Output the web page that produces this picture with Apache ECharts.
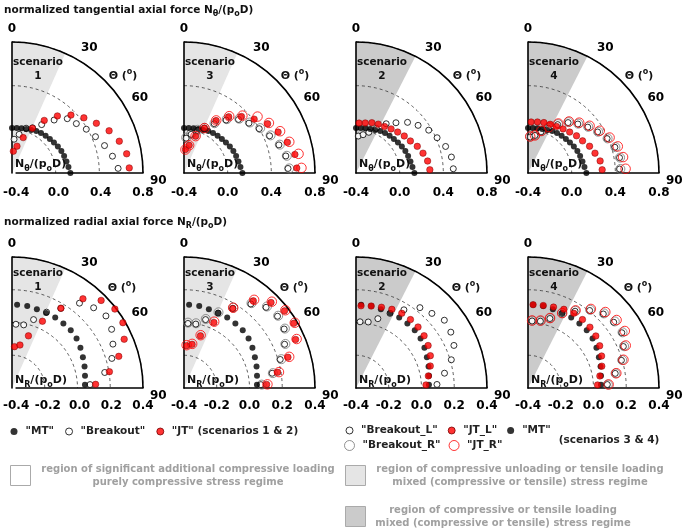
<!DOCTYPE html>
<html><head><meta charset="utf-8">
<script src="https://cdn.jsdelivr.net/npm/echarts@6/dist/echarts.min.js"></script>
<style>html,body{margin:0;padding:0;background:#fff}#c{width:685px;height:530px}</style>
</head><body><div id="c"></div>
<script>
// ================= DATA =================
// angle positions (degrees, 0 = crown/top, 90 = springline/right)
const mtAnglesTan = [0, 6, 12, 18, 24, 30, 36, 42, 48, 54, 60, 66, 72, 78, 84, 90];
const jointAngles = [3.5, 10.5, 17.5, 24.5, 31.5, 38.5, 45.5, 52.5, 59.5, 66.5, 73.5, 80.5, 87.5];

// radial axis tick settings per row (tick labels)
const tanAxisTicks = [-0.4, 0.0, 0.4, 0.8];
const radAxisTicks = [-0.4, -0.2, 0.0, 0.2, 0.4];
const angleTicks = [0, 30, 60, 90];

// ---- normalized tangential axial force N_theta/(p_o D) ----
const tanMT       = [0.012, 0.014, 0.018, 0.024, 0.032, 0.045, 0.052, 0.06, 0.067, 0.075, 0.085, 0.095, 0.102, 0.11, 0.12, 0.135];
const tanBO_s1    = [-0.09, -0.04, 0.03, 0.055, 0.12, 0.22, 0.31, 0.343, 0.39, 0.434, 0.484, 0.533, 0.573];
const tanJT_s1    = [-0.2, -0.15, -0.06, 0.05, 0.165, 0.268, 0.357, 0.43, 0.497, 0.57, 0.625, 0.665, 0.675];
const tanBOL_s3   = [-0.08, -0.04, 0.01, 0.05, 0.13, 0.22, 0.3, 0.35, 0.4, 0.455, 0.507, 0.546, 0.554];
const tanBOR_s3   = [-0.075, -0.035, 0.015, 0.055, 0.135, 0.23, 0.31, 0.36, 0.41, 0.465, 0.515, 0.555, 0.565];
const tanJTL_s3   = [-0.185, -0.142, -0.046, 0.052, 0.163, 0.258, 0.338, 0.41, 0.489, 0.54, 0.588, 0.63, 0.634];
const tanJTR_s3   = [-0.185, -0.142, -0.046, 0.052, 0.165, 0.265, 0.35, 0.449, 0.503, 0.56, 0.606, 0.664, 0.677];
const tanBO_s2    = [-0.061, -0.043, -0.009, 0.049, 0.129, 0.188, 0.262, 0.317, 0.373, 0.41, 0.456, 0.486, 0.492];
const tanJT_s2    = [0.058, 0.066, 0.083, 0.092, 0.1, 0.116, 0.135, 0.157, 0.178, 0.212, 0.24, 0.265, 0.277];
const tanBOL_s4   = [-0.07, -0.05, -0.005, 0.05, 0.12, 0.19, 0.24, 0.29, 0.34, 0.39, 0.43, 0.45, 0.44];
const tanBOR_s4   = [-0.066, -0.046, 0.0, 0.055, 0.125, 0.195, 0.245, 0.295, 0.345, 0.395, 0.435, 0.455, 0.447];
const tanJTL_s4   = [0.068, 0.075, 0.084, 0.09, 0.1, 0.116, 0.135, 0.16, 0.18, 0.215, 0.24, 0.27, 0.28];
const tanJTR_s4   = [-0.065, -0.05, 0.005, 0.062, 0.132, 0.203, 0.258, 0.311, 0.363, 0.415, 0.458, 0.483, 0.495];

// ---- normalized radial axial force N_R/(p_o D) ----
const radMT       = [0.11, 0.11, 0.105, 0.103, 0.105, 0.104, 0.103, 0.097, 0.085, 0.072, 0.062, 0.052, 0.046];
const radBO_s1    = [-0.01, -0.008, 0.038, 0.109, 0.17, 0.262, 0.299, 0.323, 0.306, 0.272, 0.236, 0.174, 0.077];
const radJT_s1    = [-0.147, -0.133, -0.066, 0.048, 0.172, 0.296, 0.363, 0.392, 0.386, 0.347, 0.28, 0.203, 0.111];
const radBOL_s3   = [-0.005, -0.003, 0.038, 0.103, 0.17, 0.256, 0.303, 0.32, 0.31, 0.27, 0.213, 0.146, 0.07];
const radBOR_s3   = [0.0, 0.002, 0.042, 0.108, 0.175, 0.262, 0.31, 0.325, 0.315, 0.275, 0.22, 0.15, 0.075];
const radJTL_s3   = [-0.141, -0.129, -0.066, 0.04, 0.17, 0.28, 0.345, 0.374, 0.378, 0.343, 0.262, 0.18, 0.105];
const radJTR_s3   = [-0.138, -0.126, -0.062, 0.045, 0.175, 0.288, 0.352, 0.38, 0.385, 0.35, 0.27, 0.188, 0.11];
const radBO_s2    = [0.005, 0.01, 0.044, 0.101, 0.16, 0.227, 0.25, 0.28, 0.272, 0.252, 0.207, 0.148, 0.095];
const radJT_s2    = [0.103, 0.109, 0.117, 0.128, 0.135, 0.134, 0.131, 0.124, 0.111, 0.095, 0.073, 0.048, 0.028];
const radBOL_s4   = [0.01, 0.015, 0.045, 0.1, 0.15, 0.205, 0.245, 0.26, 0.265, 0.235, 0.195, 0.14, 0.085];
const radBOR_s4   = [0.012, 0.017, 0.047, 0.102, 0.153, 0.21, 0.25, 0.268, 0.27, 0.24, 0.2, 0.142, 0.088];
const radJTL_s4   = [0.11, 0.112, 0.118, 0.128, 0.135, 0.134, 0.13, 0.122, 0.108, 0.09, 0.07, 0.045, 0.025];
const radJTR_s4   = [0.013, 0.019, 0.048, 0.103, 0.156, 0.217, 0.262, 0.282, 0.286, 0.251, 0.208, 0.147, 0.093];

// shaded region extent (degrees from crown) per scenario
const regionAngle = {1: 24, 3: 24, 2: 27, 4: 27};

// ================= LAYOUT / STYLE =================
const FF = "'DejaVu Sans', Verdana, sans-serif";
const COL_X = [12, 184, 356, 528];
const ROW_CY = [173, 388];
const R = 131;
const panels = [
  {row: 0, col: 0, sc: 1}, {row: 0, col: 1, sc: 3}, {row: 0, col: 2, sc: 2}, {row: 0, col: 3, sc: 4},
  {row: 1, col: 0, sc: 1}, {row: 1, col: 1, sc: 3}, {row: 1, col: 2, sc: 2}, {row: 1, col: 3, sc: 4}
];
const regionColor = {1: '#e5e5e5', 3: '#e5e5e5', 2: '#cbcbcb', 4: '#cbcbcb'};

const tanSets = {
  1: [['Breakout', tanBO_s1], ['MT', tanMT], ['JT', tanJT_s1]],
  3: [['Breakout_R', tanBOR_s3], ['Breakout_L', tanBOL_s3], ['MT', tanMT], ['JT_L', tanJTL_s3], ['JT_R', tanJTR_s3]],
  2: [['Breakout', tanBO_s2], ['MT', tanMT], ['JT', tanJT_s2]],
  4: [['Breakout_R', tanBOR_s4], ['Breakout_L', tanBOL_s4], ['MT', tanMT], ['JT_L', tanJTL_s4], ['JT_R', tanJTR_s4]]
};
const radSets = {
  1: [['Breakout', radBO_s1], ['MT', radMT], ['JT', radJT_s1]],
  3: [['Breakout_R', radBOR_s3], ['Breakout_L', radBOL_s3], ['MT', radMT], ['JT_L', radJTL_s3], ['JT_R', radJTR_s3]],
  2: [['Breakout', radBO_s2], ['MT', radMT], ['JT', radJT_s2]],
  4: [['Breakout_R', radBOR_s4], ['Breakout_L', radBOL_s4], ['MT', radMT], ['JT_L', radJTL_s4], ['JT_R', radJTR_s4]]
};

const styles = {
  'MT':         {symbolSize: 6,   itemStyle: {color: '#000'}},
  'Breakout':   {symbolSize: 6,   itemStyle: {color: '#fff', borderColor: '#000', borderWidth: 1}},
  'Breakout_L': {symbolSize: 6,   itemStyle: {color: '#fff', borderColor: '#000', borderWidth: 1}},
  'JT':         {symbolSize: 6.5, itemStyle: {color: '#ff0000', borderColor: '#700', borderWidth: 0.6}},
  'JT_L':       {symbolSize: 6.5, itemStyle: {color: '#ff0000', borderColor: '#700', borderWidth: 0.6}},
  'Breakout_R': {symbolSize: 9,   itemStyle: {color: 'rgba(0,0,0,0)', borderColor: '#777', borderWidth: 1}},
  'JT_R':       {symbolSize: 9.5, itemStyle: {color: 'rgba(0,0,0,0)', borderColor: '#ff0000', borderWidth: 1}}
};

function pairs(vals, angs) { return vals.map((v, i) => [v, angs[i]]); }

function wedgeRender(params, api) {
  const cs = params.coordSys;
  const p = api.coord([api.value(0), api.value(1)]);
  const endA = Math.atan2(p[1] - cs.cy, p[0] - cs.cx);
  return {
    type: 'sector',
    shape: {cx: cs.cx, cy: cs.cy, r0: 0, r: cs.r, startAngle: -Math.PI / 2, endAngle: endA, clockwise: true},
    style: {fill: api.visual('color')}
  };
}

function rich(size, color) {
  const s = Math.round(size * 0.72);
  return {
    n: {fontFamily: FF, fontWeight: 'bold', fontSize: size, fill: color, lineHeight: size + 6, verticalAlign: 'middle'},
    s: {fontFamily: FF, fontWeight: 'bold', fontSize: s, fill: color, lineHeight: s + 1, verticalAlign: 'bottom'},
    u: {fontFamily: FF, fontWeight: 'bold', fontSize: s, fill: color, lineHeight: s + 1, verticalAlign: 'top'}
  };
}
function richText(x, y, text, size, color, align) {
  return {type: 'text', x: x, y: y, z: 10,
    style: {text: text, rich: rich(size, color), fontFamily: FF, fontWeight: 'bold', fontSize: size, fill: color,
      align: align || 'left', textAlign: align || 'left', verticalAlign: 'middle', textVerticalAlign: 'middle'}};
}
function plainText(x, y, text, size, color, align, lh) {
  return {type: 'text', x: x, y: y, z: 10,
    style: {text: text, fontFamily: FF, fontWeight: 'bold', fontSize: size, fill: color, lineHeight: lh || size + 3,
      align: align || 'left', textAlign: align || 'left', verticalAlign: 'middle', textVerticalAlign: 'middle'}};
}

const option = {
  backgroundColor: '#fff',
  animation: false,
  polar: [], angleAxis: [], radiusAxis: [], grid: [], xAxis: [], yAxis: [], series: [],
  legend: [],
  graphic: {elements: []}
};

panels.forEach((p, i) => {
  const cx = COL_X[p.col], cy = ROW_CY[p.row];
  const ticks = p.row === 0 ? tanAxisTicks : radAxisTicks;
  const rmin = ticks[0], rmax = ticks[ticks.length - 1], step = ticks[1] - ticks[0];

  option.polar.push({center: [cx, cy], radius: R});
  option.angleAxis.push({
    polarIndex: i, type: 'value', min: angleTicks[0], max: angleTicks[angleTicks.length - 1],
    interval: angleTicks[1] - angleTicks[0], startAngle: 90, endAngle: 0, clockwise: true, z: 3,
    axisLine: {show: true, lineStyle: {color: '#000', width: 1.6}},
    axisTick: {show: false}, splitLine: {show: false},
    axisLabel: {show: true, margin: 7, color: '#000', fontFamily: FF, fontWeight: 'bold', fontSize: 12,
      formatter: v => v === 90 ? '{d|90}' : (v === 60 ? '{m|60}' : String(v)),
      rich: {
        d: {fontFamily: FF, fontWeight: 'bold', fontSize: 12, color: '#000', padding: [16, 0, 0, 0]},
        m: {fontFamily: FF, fontWeight: 'bold', fontSize: 12, color: '#000', padding: [10, 0, 0, 0]}
      }}
  });
  option.radiusAxis.push({
    polarIndex: i, type: 'value', min: rmin, max: rmax, interval: step, z: 3,
    axisLine: {show: true, lineStyle: {color: '#000', width: 1.6}},
    axisTick: {show: false}, axisLabel: {show: false},
    splitLine: {show: true, lineStyle: {color: '#333', width: 0.8, type: [3, 3]}}
  });
  option.grid.push({left: cx, top: cy - 20, width: R, height: 20, show: false});
  option.xAxis.push({
    gridIndex: i, type: 'value', min: rmin, max: rmax, interval: step, position: 'bottom', z: 3,
    axisLine: {show: true, onZero: false, lineStyle: {color: '#000', width: 1.6}},
    axisTick: {show: false}, splitLine: {show: false},
    axisLabel: {show: true, margin: p.row === 0 ? 14 : 12, color: '#000', fontFamily: FF, fontWeight: 'bold',
      fontSize: 12, showMinLabel: true, showMaxLabel: true, formatter: v => v.toFixed(1)}
  });
  option.yAxis.push({gridIndex: i, type: 'value', show: false, min: 0, max: 1});

  // shaded region
  option.series.push({
    type: 'custom', name: 'region', coordinateSystem: 'polar', polarIndex: i, z: 1, silent: true,
    itemStyle: {color: regionColor[p.sc]},
    data: [[rmax, regionAngle[p.sc]]],
    renderItem: wedgeRender
  });

  const sets = p.row === 0 ? tanSets[p.sc] : radSets[p.sc];
  sets.forEach(([name, vals]) => {
    const angs = (p.row === 0 && name === 'MT') ? mtAnglesTan : jointAngles;
    const st = styles[name];
    option.series.push({
      type: 'scatter', name: name, coordinateSystem: 'polar', polarIndex: i, z: 5, silent: true,
      symbol: 'circle', symbolSize: st.symbolSize, itemStyle: st.itemStyle,
      data: pairs(vals, angs)
    });
  });

  // panel annotations
  const g = option.graphic.elements;
  g.push({type: 'text', x: cx + 26, y: cy - (p.row === 0 ? 118 : 121.5), z: 10,
    style: {text: 'scenario\n' + p.sc, fontFamily: FF, fontWeight: 'bold', fontSize: 10.5, fill: '#111',
      lineHeight: 14, align: 'center', textAlign: 'center', verticalAlign: 'top', textVerticalAlign: 'top'}});
  g.push(richText(cx + (p.row === 0 ? 111 : 110), cy - (p.row === 0 ? 97 : 100), '{n|Θ (}{u|o}{n|)}', 11, '#111', 'center'));
  g.push(richText(cx + 3, cy - (p.row === 0 ? 9 : 8),
    p.row === 0 ? '{n|N}{s|θ}{n|/(p}{s|o}{n|D)}' : '{n|N}{s|R}{n|/(p}{s|o}{n|D)}', 11, '#111', 'left'));
});

const G = option.graphic.elements;
G.push(richText(4, 10, '{n|normalized tangential axial force N}{s|θ}{n|/(p}{s|o}{n|D)}', 10.5, '#111', 'left'));
G.push(richText(4, 222, '{n|normalized radial axial force N}{s|R}{n|/(p}{s|o}{n|D)}', 10.5, '#111', 'left'));
G.push(plainText(609, 440, '(scenarios 3 & 4)', 10.5, '#222', 'center'));

// region legend boxes
G.push({type: 'rect', shape: {x: 10.5, y: 465.5, width: 20, height: 20}, style: {fill: '#fff', stroke: '#aaa', lineWidth: 1}});
G.push(plainText(188, 476, 'region of significant additional compressive loading\npurely compressive stress regime', 10, '#a0a0a0', 'center', 13));
G.push({type: 'rect', shape: {x: 345.5, y: 465.5, width: 20, height: 20}, style: {fill: '#e5e5e5', stroke: '#aaa', lineWidth: 1}});
G.push(plainText(520, 476, 'region of compressive unloading or tensile loading\nmixed (compressive or tensile) stress regime', 10, '#a0a0a0', 'center', 13));
G.push({type: 'rect', shape: {x: 345.5, y: 506.5, width: 20, height: 20}, style: {fill: '#cbcbcb', stroke: '#aaa', lineWidth: 1}});
G.push(plainText(503, 516.5, 'region of compressive or tensile loading\nmixed (compressive or tensile) stress regime', 10, '#a0a0a0', 'center', 13));

const legendText = {fontFamily: FF, fontWeight: 'bold', fontSize: 10.5, color: '#222', padding: [0, 0, 0, 3]};
const q = n => '"' + n + '"';
option.legend.push({
  data: ['MT', 'Breakout', 'JT'], left: 5.5, top: 421, itemWidth: 7, itemHeight: 7, itemGap: 11,
  selectedMode: false, icon: 'circle', itemStyle: {borderWidth: 1}, textStyle: legendText,
  formatter: n => n === 'JT' ? q(n) + ' (scenarios 1 & 2)' : q(n)
});
option.legend.push({
  data: ['Breakout_L', 'JT_L', 'MT'], left: 340.5, top: 420, itemWidth: 7, itemHeight: 7, itemGap: 10,
  selectedMode: false, icon: 'circle', itemStyle: {borderWidth: 1}, textStyle: legendText, formatter: q
});
option.legend.push({
  data: ['Breakout_R', 'JT_R'], left: 339, top: 435, itemWidth: 10, itemHeight: 10, itemGap: 8,
  selectedMode: false, icon: 'circle', itemStyle: {borderWidth: 1}, textStyle: legendText, formatter: q
});

const chart = echarts.init(document.getElementById('c'), null, {renderer: 'canvas'});
chart.setOption(option);
</script></body></html>
